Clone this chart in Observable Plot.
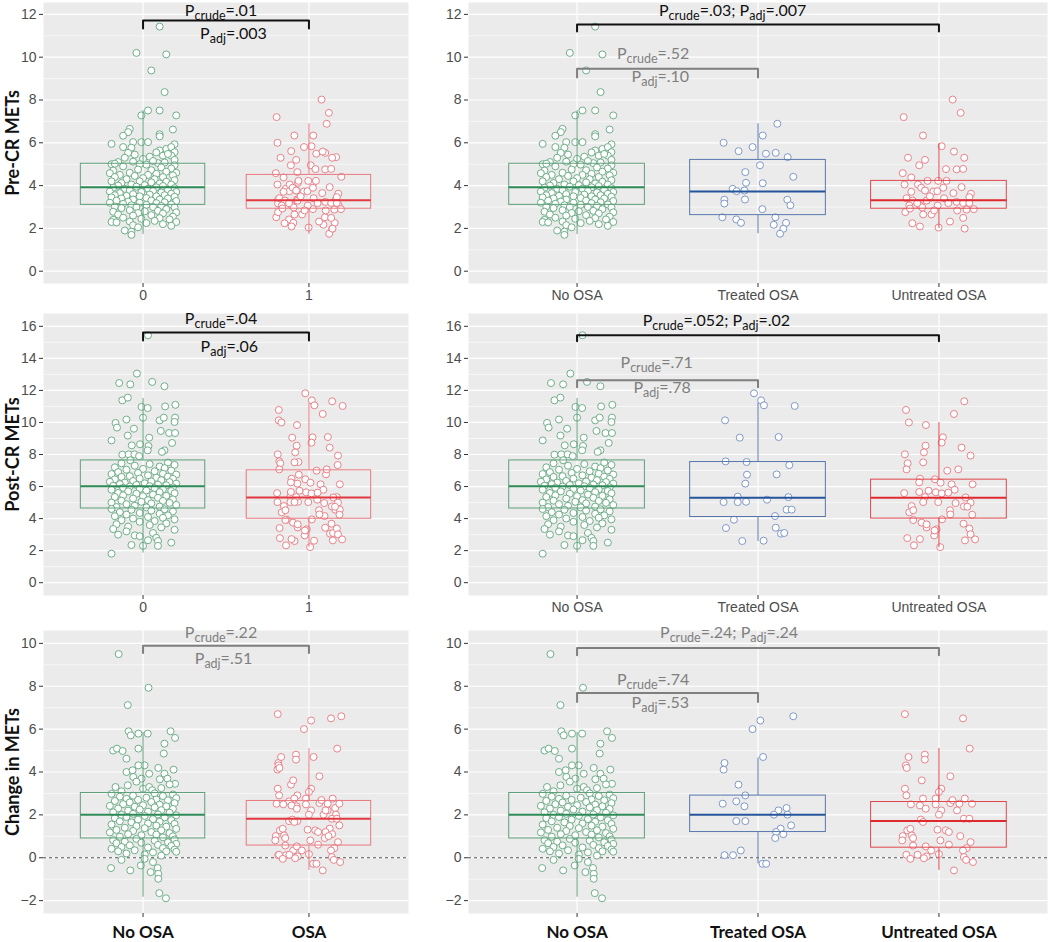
<!DOCTYPE html>
<html><head><meta charset="utf-8">
<script src="https://cdn.jsdelivr.net/npm/d3@7"></script>
<script src="https://cdn.jsdelivr.net/npm/@observablehq/plot@0.6"></script>
<style>
body{margin:0;background:#fff;}
#wrap{position:relative;width:1050px;height:942px;overflow:hidden;background:#fff;}
#wrap svg{position:absolute;overflow:visible;}
</style></head><body><div id="wrap"></div>
<script>
// ---------------- DATA (value, jitter-in-category-units) ----------------
const leftCodes = ["0", "1"];
const leftGroups = ["No OSA", "OSA"];
const rightGroups = ["No OSA", "Treated OSA", "Untreated OSA"];
const yTitles = ["Pre-CR METs", "Post-CR METs", "Change in METs"];

const noOsaPre = [[11.43,0.10],[10.2,-0.04],[10.13,0.14],[9.38,0.05],[8.37,0.13],[7.51,0.03],[7.51,0.10],[7.28,-0.01],[7.28,0.20],[6.62,0.18],[6.65,-0.08],[6.5,-0.09],[6.33,-0.12],[6.4,0.10],[6.3,0.10],[5.95,-0.19],[5.93,0.19],[6.03,0.03],[6.03,-0.01],[6.03,-0.06],[5.8,-0.12],
[5.77,-0.07],[5.64,0.10],[5.55,0.08],[5.71,0.14],[5.8,0.17],[5.56,0.19],[5.53,-0.09],[5.45,-0.05],[5.35,0.04],[5.4,0.12],[5.4,0.17],[5.48,0.15],[5.3,-0.11],[5.2,0.19],[5.25,0.0],[5.1,-0.15],[5.05,0.09],[5.0,-0.19],[5.02,-0.17],[5.15,0.06],[5.08,0.13],[4.98,0.02],[5.0,-0.02],[4.95,0.19],[5.12,-0.06],
[4.9,-0.12],[4.85,0.11],[4.8,0.17],[4.75,-0.03],[4.72,0.05],[4.7,-0.18],[4.65,0.14],[4.6,-0.08],[4.6,0.2],[4.58,-0.2],[4.55,0.08],[4.5,-0.14],[4.5,0.03],[4.48,0.18],[4.45,-0.05],[4.4,0.12],[4.4,-0.17],[4.35,0.0],[4.3,0.07],[4.3,-0.1],[4.25,0.19],[4.2,-0.02],[4.2,-0.19],[4.18,0.14],[4.15,0.05],[4.12,-0.13],[4.1,0.1],[4.05,-0.07],[4.05,0.17],[4.02,0.01],[4.0,-0.15],
[3.98,0.12],[3.95,-0.04],[3.92,0.08],[3.9,-0.18],[3.88,0.19],[3.85,-0.11],[3.85,0.03],[3.8,0.15],[3.78,-0.08],[3.75,0.06],[3.72,-0.2],[3.7,-0.01],[3.7,0.2],[3.68,0.11],[3.65,-0.14],[3.62,0.17],[3.6,-0.06],[3.58,0.04],[3.55,-0.17],[3.55,0.13],[3.52,-0.1],[3.5,0.08],[3.5,-0.02],[3.48,0.19],
[3.45,-0.19],[3.42,0.02],[3.4,-0.13],[3.4,0.15],[3.35,-0.06],[3.35,0.1],[3.3,-0.16],[3.3,0.05],[3.28,0.2],[3.25,-0.09],[3.22,0.13],[3.2,-0.02],[3.2,-0.2],[3.18,0.08],[3.15,-0.12],[3.12,0.17],[3.1,0.02],[3.08,-0.07],[3.05,0.11],[3.02,-0.17],[3.0,0.06],[3.0,-0.04],[2.98,0.19],
[2.95,-0.13],[2.9,0.14],[2.85,-0.08],[2.82,0.09],[2.8,0.01],[2.78,-0.18],[2.75,0.2],[2.72,-0.03],[2.7,0.12],[2.65,-0.15],[2.62,0.05],[2.6,-0.06],[2.55,0.18],[2.5,-0.12],[2.48,0.1],[2.45,-0.01],[2.42,0.16],[2.4,-0.18],[2.35,0.07],[2.32,-0.08],[2.3,-0.19],[2.3,0.2],[2.28,-0.16],[2.25,0.02],[2.2,0.12],[2.15,-0.06],[2.12,0.17],[2.05,-0.03],
[1.9,-0.11],[1.85,-0.07],[1.7,-0.07]];

const treatedPre = [[6.89,0.107],[6.34,0.026],[6.0,-0.19],[5.8,-0.03],[5.61,-0.107],[5.49,0.044],[5.53,0.098],[5.33,0.164],[4.95,0.011],[4.63,-0.07],[4.41,0.195],[4.13,-0.066],[4.11,0.026],[3.85,-0.14],[3.74,-0.118],[3.77,-0.075],[3.35,-0.072],[3.34,-0.186],[3.16,-0.186],[3.34,0.162],[3.08,0.179],[2.9,0.024],[2.52,-0.197],[2.42,-0.12],[2.26,-0.094],[2.52,0.096],[2.17,0.087],[2.26,0.155],[1.98,0.14],[1.75,0.122]];

const untreatedPre = [[8.02,0.076],[7.4,0.12],[7.2,-0.195],[6.34,-0.088],[5.84,0.015],[5.59,0.083],[5.3,-0.171],[5.2,-0.077],[4.95,-0.109],[5.3,0.14],[4.77,0.039],[4.76,0.098],[4.78,0.134],[4.58,-0.2],[4.38,-0.153],[4.22,-0.063],[4.22,-0.004],[4.22,0.042],[4.05,-0.19],[4.05,-0.116],[3.9,-0.098],[3.77,-0.077],[3.72,-0.031],[3.74,-0.009],[3.71,-0.153],[3.93,0.125],[3.62,0.177],[3.46,0.168],[3.41,-0.179],[3.3,-0.145],[3.3,-0.068],[3.41,0.028],[3.18,0.052],[3.24,0.098],[3.19,0.134],[3.19,0.168],[3.07,-0.164],[3.08,-0.105],[3.07,-0.007],[2.84,0.101],[2.88,0.153],[2.9,0.193],[2.76,-0.186],[2.65,-0.087],[2.65,-0.041],[2.98,-0.092],[2.84,-0.026],[2.93,-0.16],[2.49,0.134],[2.24,-0.147],[2.09,-0.105],[2.32,0.061],[2.04,-0.002],[1.99,0.142],[3.18,-0.12],[3.5,-0.05],[3.65,0.08],[3.9,0.024]];

const noOsaPost = [[15.44,0.03],[13.05,-0.037],[12.46,-0.144],[12.38,-0.077],[12.53,0.055],[12.26,0.129],[11.38,-0.125],[11.55,-0.092],[10.97,-0.009],[10.9,0.028],[11.0,0.133],[11.1,0.195],[10.3,0.0],[10.18,-0.1],[9.97,-0.166],[10.13,0.1],[10.3,0.125],[10.3,0.193],[10.03,0.19],[9.68,-0.157],[9.61,-0.055],[9.47,0.107],[9.34,0.157],[9.34,0.193],[9.18,-0.092],[8.88,-0.19],[9.05,0.037],[8.72,0.175],[8.57,-0.068],[8.64,-0.018],[8.53,0.033],[8.26,0.129],[8.16,0.114],[7.99,-0.125],[8.01,-0.087],[8.01,-0.052],[7.9,-0.024],[8.26,0.028],[7.64,-0.077],
[7.5,0.15],[7.45,-0.13],[7.4,0.04],[7.35,0.19],[7.3,-0.05],[7.25,0.1],[7.2,-0.17],[7.15,0.13],[7.1,0.0],[7.05,-0.1],[7.0,0.17],[6.95,0.07],[6.9,-0.15],[6.85,-0.03],[6.8,0.12],[6.78,-0.19],[6.75,0.2],[6.7,0.03],[6.65,-0.08],[6.62,0.15],[6.6,-0.13],[6.55,0.08],[6.5,-0.02],[6.48,0.18],[6.45,-0.17],[6.4,0.11],[6.35,-0.06],[6.32,0.05],[6.3,-0.2],[6.28,0.16],[6.25,-0.11],[6.2,0.01],[6.18,0.2],[6.15,-0.14],[6.12,0.09],[6.1,-0.04],[6.08,0.14],[6.05,-0.18],[6.02,0.04],[6.0,-0.08],[5.95,0.18],[5.92,-0.12],[5.9,0.07],[5.85,-0.02],[5.82,0.12],[5.8,-0.19],[5.75,0.02],[5.72,0.17],[5.7,-0.09],[5.65,0.1],[5.6,-0.15],[5.58,0.19],[5.55,-0.04],[5.5,0.06],[5.45,-0.12],[5.42,0.14],[5.4,0.0],[5.35,-0.17],[5.3,0.09],[5.25,-0.06],[5.2,0.18],[5.15,0.03],[5.12,-0.13],[5.1,0.12],[5.05,-0.01],[5.0,-0.19],[4.98,0.16],[4.95,0.05],[4.9,-0.1],[4.85,0.2],[4.8,-0.05],[4.75,0.1],[4.72,-0.16],[4.7,0.02],
[4.6,-0.19],[4.58,0.13],[4.55,-0.07],[4.5,0.05],[4.45,0.18],[4.4,-0.14],[4.35,-0.02],[4.3,0.1],[4.25,-0.1],[4.2,0.15],[4.15,-0.17],[4.1,0.03],[4.05,0.12],[4.0,-0.06],[3.95,0.19],[3.9,-0.13],[3.85,0.07],[3.8,-0.02],[3.7,0.14],[3.65,-0.16],[3.6,0.04],[3.5,-0.09],[3.45,0.11],[3.35,-0.18],[3.3,0.19],[3.2,-0.1],[3.1,0.06],[3.0,-0.15],[2.95,-0.05],[2.9,-0.02],[2.8,0.08],[2.65,0.03],[2.6,0.09],[2.5,0.17],[2.35,-0.07],[2.3,0.09],[2.3,0.0],[1.81,-0.19]];

const treatedPost = [[11.82,-0.022],[11.38,0.017],[11.07,0.033],[11.03,0.203],[10.13,-0.182],[9.05,-0.101],[9.09,0.114],[7.57,-0.179],[7.53,-0.063],[7.34,0.173],[6.74,-0.061],[6.76,0.103],[6.18,-0.07],[5.37,-0.112],[5.34,0.168],[5.03,-0.19],[5.03,-0.112],[5.05,-0.066],[5.18,0.05],[4.56,0.158],[4.56,0.186],[4.16,0.094],[3.93,-0.133],[3.41,-0.177],[3.43,0.098],[3.06,0.127],[3.1,0.145],[2.6,-0.087],[2.62,0.031]];

const untreatedPost = [[11.32,0.14],[10.78,-0.182],[10.53,0.083],[10.0,-0.166],[9.84,-0.072],[9.07,0.022],[8.74,0.015],[8.55,-0.074],[8.43,0.125],[8.13,-0.083],[8.01,-0.188],[7.93,0.175],[7.45,-0.173],[7.51,-0.087],[7.07,-0.179],[6.99,0.046],[7.07,0.107],[6.49,-0.105],[6.26,-0.109],[6.45,-0.022],[6.24,0.009],[6.14,0.07],[6.14,0.186],[5.8,0.087],[5.59,-0.192],[5.66,-0.109],[5.74,-0.057],[5.64,-0.017],[5.57,0.015],[5.62,0.052],[5.34,-0.077],[5.03,-0.087],[5.03,-0.004],[5.32,0.147],[4.97,0.092],[5.0,0.175],[4.76,0.138],[4.74,0.157],[4.78,-0.151],[4.39,-0.164],[4.52,-0.142],[4.52,0.061],[4.26,0.063],[4.24,0.184],[3.95,0.017],[3.91,-0.142],[3.75,-0.096],[3.45,-0.068],[3.33,-0.013],[3.68,0.136],[3.38,0.168],[3.64,-0.068],[2.95,-0.026],[3.26,-0.024],[3.02,0.175],[2.78,-0.175],[2.72,-0.105],[2.64,0.144],[2.7,0.2],[2.33,-0.138],[2.22,0.007]];

const noOsaChg = [[9.5,-0.147],[7.93,0.033],[7.12,-0.092],[5.9,-0.087],[5.79,-0.028],[5.79,0.028],[5.9,0.166],[5.59,0.193],[5.71,-0.074],[5.0,-0.18],[5.09,-0.157],[4.98,-0.123],[5.09,-0.028],[5.32,0.129],[4.86,0.125],[4.62,-0.1],[4.31,-0.028],[4.31,0.009],[4.11,0.184],[4.0,-0.1],[4.08,-0.063],[4.19,0.092],[3.92,0.129],[3.92,0.037],[3.77,-0.059],[3.69,-0.009],[3.66,0.101],[3.69,0.147],[3.3,-0.166],[3.38,-0.092],[3.22,0.0],[3.3,0.037],[3.15,0.055],[3.25,0.11],[3.45,0.193],[3.55,-0.04],[3.42,0.16],[3.1,-0.13],
[3.0,0.07],[2.98,-0.19],[2.95,0.18],[2.9,-0.06],[2.88,0.12],[2.85,-0.14],[2.8,0.02],[2.78,0.2],[2.75,-0.1],[2.72,0.08],[2.7,-0.03],[2.68,0.15],[2.65,-0.17],[2.6,0.05],[2.58,-0.08],[2.55,0.19],[2.5,-0.12],[2.48,0.1],[2.45,0.0],[2.42,-0.2],[2.4,0.14],[2.38,-0.05],[2.35,0.07],[2.3,-0.15],[2.28,0.18],[2.25,-0.02],[2.22,0.11],[2.2,-0.09],[2.15,0.03],[2.12,-0.18],[2.1,0.16],[2.05,-0.06],[2.02,0.09],[2.0,-0.13],[1.98,0.2],[1.95,0.01],[1.9,-0.1],[1.88,0.13],[1.85,-0.17],[1.8,0.06],[1.78,-0.03],[1.75,0.17],[1.7,-0.14],[1.68,0.1],[1.65,-0.07],[1.6,0.03],[1.58,0.19],[1.55,-0.19],[1.5,0.08],[1.48,-0.04],[1.45,0.14],[1.4,-0.11],[1.38,0.01],[1.35,0.2],[1.3,-0.16],[1.28,0.11],[1.25,-0.06],[1.2,0.05],[1.18,-0.2],[1.15,0.16],[1.1,-0.09],[1.08,0.08],[1.05,-0.01],[1.0,0.18],[0.98,-0.14],[0.95,0.12],
[0.88,-0.04],[0.85,0.19],[0.82,-0.18],[0.8,0.07],[0.75,-0.11],[0.72,0.15],[0.7,-0.01],[0.68,-0.16],[0.65,0.2],[0.6,0.09],[0.58,-0.08],[0.55,0.17],[0.5,-0.13],[0.48,0.03],[0.45,0.12],[0.42,-0.19],[0.38,0.19],[0.35,-0.05],[0.3,0.14],[0.3,-0.15],[0.28,0.2],[0.25,0.06],[0.2,-0.1],[0.15,0.01],[0.1,0.11],[-0.05,0.009],[-0.1,-0.13],[-0.2,0.06],[-0.36,-0.013],[-0.48,-0.193],[-0.59,-0.077],[-0.67,0.046],[-0.48,0.088],[-0.75,0.092],[-0.98,0.092],[-1.65,0.098],[-1.89,0.138]];

const treatedChg = [[6.6,0.195],[6.4,0.013],[6.0,-0.03],[4.7,0.028],[4.42,-0.185],[4.11,-0.19],[3.41,-0.108],[2.91,-0.07],[2.4,-0.075],[2.52,-0.195],[2.63,-0.12],[2.32,0.158],[2.21,0.113],[2.01,0.088],[2.01,0.163],[1.71,-0.12],[1.71,-0.07],[1.51,0.183],[1.36,0.125],[1.2,0.1],[1.1,0.14],[0.92,0.095],[0.34,-0.095],[0.12,-0.185],[0.12,-0.138],[-0.28,0.025],[-0.28,0.045]];

const untreatedChg = [[6.7,-0.188],[6.5,0.133],[5.09,0.17],[3.8,0.063],[4.7,-0.168],[4.81,-0.078],[4.58,-0.078],[4.31,-0.183],[4.19,-0.178],[3.61,-0.095],[3.22,-0.188],[3.22,0.013],[2.91,-0.18],[3.07,0.0],[2.76,-0.018],[2.76,-0.088],[2.49,-0.155],[2.44,-0.105],[2.29,-0.073],[2.49,-0.018],[2.55,0.063],[2.52,0.113],[2.76,0.143],[2.69,0.075],[2.52,0.183],[2.21,0.1],[2.21,0.013],[2.01,0.0],[1.82,0.138],[1.82,0.168],[1.78,-0.1],[1.67,-0.088],[1.28,-0.175],[1.35,-0.158],[1.31,-0.008],[1.28,0.038],[1.2,0.055],[1.01,-0.2],[1.04,-0.15],[1.01,0.118],[0.81,-0.203],[0.92,-0.143],[0.81,0.008],[0.61,0.055],[0.73,0.175],[0.57,-0.143],[0.53,-0.073],[0.45,0.153],[0.34,0.133],[0.34,-0.043],[0.14,-0.18],[0.14,-0.118],[0.06,-0.068],[0.17,0.0],[-0.05,-0.158],[-0.02,-0.083],[0.03,0.138],[-0.1,0.15],[-0.2,0.188],[-0.59,0.083]];

// box statistics: [q1, median, q3, whiskerLow, whiskerHigh] for No OSA, OSA, Treated, Untreated
const boxPre  = [[3.1,3.92,5.02,1.72,7.5],[2.92,3.32,4.5,1.72,6.89],[2.62,3.72,5.2,1.75,6.89],[2.92,3.32,4.22,2.0,5.95]];
const boxPost = [[4.63,6.02,7.63,1.85,11.49],[3.99,5.32,7.01,2.22,11.17],[4.1,5.3,7.53,2.58,11.21],[4.0,5.3,6.43,2.18,9.99]];
const boxChg  = [[0.9,2.01,3.02,-1.84,5.84],[0.57,1.82,2.65,-0.59,5.09],[1.2,2.01,2.9,-0.28,4.65],[0.47,1.71,2.6,-0.59,5.09]];

const ticksPre = [0,2,4,6,8,10,12], minorPre = [1,3,5,7,9,11];
const ticksPost = [0,2,4,6,8,10,12,14,16], minorPost = [1,3,5,7,9,11,13,15];
const ticksChg = [-2,0,2,4,6,8,10], minorChg = [-1,1,3,5,7,9];

// comparison labels
const annPre = {
  L: {brackets: [{a:0,b:1,level:11.72,drop:11.34,dark:true}],
      labels: [{t:"P_crude=.01",x:0.47,y:12.18,dark:true},{t:"P_adj=.003",x:0.545,y:11.1,dark:true}]},
  R: {brackets: [{a:0,b:2,level:11.53,drop:11.2,dark:true},{a:0,b:1,level:9.46,drop:9.05,dark:false}],
      labels: [{t:"P_crude=.03; P_adj=.007",x:0.86,y:12.18,dark:true},{t:"P_crude=.52",x:0.42,y:10.17,dark:false},{t:"P_adj=.10",x:0.46,y:9.1,dark:false}]}
};
const annPost = {
  L: {brackets: [{a:0,b:1,level:15.62,drop:15.12,dark:true}],
      labels: [{t:"P_crude=.04",x:0.47,y:16.44,dark:true},{t:"P_adj=.06",x:0.52,y:14.69,dark:true}]},
  R: {brackets: [{a:0,b:2,level:15.44,drop:15.07,dark:true},{a:0,b:1,level:12.63,drop:12.2,dark:false}],
      labels: [{t:"P_crude=.052; P_adj=.02",x:0.77,y:16.37,dark:true},{t:"P_crude=.71",x:0.44,y:13.69,dark:false},{t:"P_adj=.78",x:0.47,y:12.13,dark:false}]}
};
const annChg = {
  L: {brackets: [{a:0,b:1,level:9.89,drop:9.55,dark:false}],
      labels: [{t:"P_crude=.22",x:0.47,y:10.49,dark:false},{t:"P_adj=.51",x:0.485,y:9.26,dark:false}]},
  R: {brackets: [{a:0,b:2,level:9.78,drop:9.45,dark:false},{a:0,b:1,level:7.68,drop:7.26,dark:false}],
      labels: [{t:"P_crude=.24; P_adj=.24",x:0.84,y:10.49,dark:false},{t:"P_crude=.74",x:0.42,y:8.29,dark:false},{t:"P_adj=.53",x:0.46,y:7.21,dark:false}]}
};

// ---------------- STYLE / LAYOUT ----------------
const COLORS = {
  noosa:     {pt:"#6fae88", box:"#5fa07a", med:"#2e8b57"},
  osa:       {pt:"#e8828a", box:"#e8787e", med:"#e2383f"},
  treated:   {pt:"#8098c5", box:"#5878ad", med:"#24549b"},
  untreated: {pt:"#e8828a", box:"#e0474d", med:"#e0282f"}
};
const DARK = "#111111", GREY = "#7f7f7f";
const cols = {L:{x0:43,x1:408,left:0}, R:{x0:468,x1:1047,left:420}};
const rows = [{y0:2,y1:283},{y0:313,y1:595},{y0:630,y1:913}];
const wrap = document.getElementById("wrap");

function applySub(svg) {
  const NS = "http://www.w3.org/2000/svg";
  svg.querySelectorAll("text").forEach(t => {
    const s = t.textContent;
    if (!s.includes("P_")) return;
    while (t.firstChild) t.removeChild(t.firstChild);
    const parts = s.split(/(P_crude|P_adj)/).filter(p => p.length);
    let pending = false;
    const add = (str, attrs) => {
      const ts = document.createElementNS(NS, "tspan");
      ts.textContent = str;
      for (const k in attrs) ts.setAttribute(k, attrs[k]);
      t.appendChild(ts);
    };
    for (const p of parts) {
      if (p.startsWith("P_")) {
        add("P", pending ? {dy: -4} : {});
        add(p.slice(2), {dy: 4, "font-size": 12.5});
        pending = true;
      } else {
        add(p, pending ? {dy: -4} : {});
        pending = false;
      }
    }
  });
}

function panel(rowIdx, colKey, cats, labels, bold, yDomain, yTicks, minor, ann, zeroLine) {
  const col = cols[colKey], row = rows[rowIdx];
  const mL = col.x0 - col.left, mR = 4, mT = 14, mB = 30;
  const n = cats.length;
  const pts = cats.flatMap((c, i) => c.pts.map(([v, j]) => ({x: i + j, y: v, c: COLORS[c.key].pt})));
  const boxes = cats.map((c, i) => ({i, q1:c.box[0], med:c.box[1], q3:c.box[2], lo:c.box[3], hi:c.box[4], s:COLORS[c.key].box, m:COLORS[c.key].med}));
  const br = ann.brackets.flatMap((b, k) => [[b.a,b.drop],[b.a,b.level],[b.b,b.level],[b.b,b.drop]]
      .map(([x, y]) => ({x, y, id:k, c: b.dark ? DARK : GREY})));
  const labs = ann.labels.map(l => ({...l, c: l.dark ? DARK : GREY}));
  const marks = [
    Plot.frame({fill:"#ebebeb", stroke:"none"}),
    Plot.gridY(minor, {stroke:"white", strokeOpacity:1, strokeWidth:0.6}),
    Plot.gridY(yTicks, {stroke:"white", strokeOpacity:1, strokeWidth:1.2}),
    Plot.gridX(d3.range(n), {stroke:"white", strokeOpacity:1, strokeWidth:1.2}),
  ];
  if (zeroLine) marks.push(Plot.ruleY([0], {stroke:"#555", strokeWidth:1, strokeDasharray:"3,3"}));
  marks.push(
    Plot.dot(pts, {x:"x", y:"y", r:3.5, fill:"white", stroke:"c", strokeWidth:1}),
    Plot.ruleX(boxes, {x:"i", y1:"q3", y2:"hi", stroke:"s", strokeWidth:1}),
    Plot.ruleX(boxes, {x:"i", y1:"lo", y2:"q1", stroke:"s", strokeWidth:1}),
    Plot.rect(boxes, {x1:d => d.i - 0.375, x2:d => d.i + 0.375, y1:"q1", y2:"q3", fill:"none", stroke:"s", strokeWidth:1}),
    Plot.ruleY(boxes, {y:"med", x1:d => d.i - 0.375, x2:d => d.i + 0.375, stroke:"m", strokeWidth:2}),
    Plot.line(br, {x:"x", y:"y", z:"id", stroke:"c", strokeWidth:2}),
    Plot.text(labs, {x:"x", y:"y", text:"t", fill:"c", fontSize:16, fontFamily:"Lato", textAnchor:"middle"}),
    Plot.axisY(yTicks, {tickSize:4, tickPadding:3, fontSize:14, fill:"#4d4d4d", stroke:"#333", label:null}),
    bold
      ? Plot.axisX(d3.range(n), {tickSize:4, tickPadding:8, fontSize:17, fontWeight:"bold", fontFamily:"Lato", fill:"#111", stroke:"#333", tickFormat:i => labels[i], label:null})
      : Plot.axisX(d3.range(n), {tickSize:4, tickPadding:3, fontSize:14, fill:"#4d4d4d", stroke:"#333", tickFormat:i => labels[i], label:null})
  );
  if (colKey === "L") {
    marks.push(Plot.text([yTitles[rowIdx]], {frameAnchor:"left", dx:-30, rotate:-90, textAnchor:"middle", fontSize:18, fontWeight:"bold", fontFamily:"Lato", fill:"#111"}));
  }
  const svg = Plot.plot({
    width: mL + (col.x1 - col.x0) + mR,
    height: mT + (row.y1 - row.y0) + mB,
    marginLeft: mL, marginRight: mR, marginTop: mT, marginBottom: mB,
    x: {domain:[-0.6, n - 0.4]},
    y: {domain: yDomain},
    color: {type:"identity"},
    style: {background:"transparent", overflow:"visible", fontFamily:"'Liberation Sans', Arial, sans-serif"},
    marks
  });
  svg.style.left = col.left + "px";
  svg.style.top = (row.y0 - mT) + "px";
  applySub(svg);
  wrap.appendChild(svg);
}

const dom = [[-0.575,12.556],[-0.8,16.8],[-2.6,10.6]];
const osaPre = treatedPre.concat(untreatedPre);
const osaPost = treatedPost.concat(untreatedPost);
const osaChg = treatedChg.concat(untreatedChg);

panel(0, "L", [{key:"noosa",pts:noOsaPre,box:boxPre[0]},{key:"osa",pts:osaPre,box:boxPre[1]}], leftCodes, false, dom[0], ticksPre, minorPre, annPre.L, false);
panel(0, "R", [{key:"noosa",pts:noOsaPre,box:boxPre[0]},{key:"treated",pts:treatedPre,box:boxPre[2]},{key:"untreated",pts:untreatedPre,box:boxPre[3]}], rightGroups, false, dom[0], ticksPre, minorPre, annPre.R, false);
panel(1, "L", [{key:"noosa",pts:noOsaPost,box:boxPost[0]},{key:"osa",pts:osaPost,box:boxPost[1]}], leftCodes, false, dom[1], ticksPost, minorPost, annPost.L, false);
panel(1, "R", [{key:"noosa",pts:noOsaPost,box:boxPost[0]},{key:"treated",pts:treatedPost,box:boxPost[2]},{key:"untreated",pts:untreatedPost,box:boxPost[3]}], rightGroups, false, dom[1], ticksPost, minorPost, annPost.R, false);
panel(2, "L", [{key:"noosa",pts:noOsaChg,box:boxChg[0]},{key:"osa",pts:osaChg,box:boxChg[1]}], leftGroups, true, dom[2], ticksChg, minorChg, annChg.L, true);
panel(2, "R", [{key:"noosa",pts:noOsaChg,box:boxChg[0]},{key:"treated",pts:treatedChg,box:boxChg[2]},{key:"untreated",pts:untreatedChg,box:boxChg[3]}], rightGroups, true, dom[2], ticksChg, minorChg, annChg.R, true);
</script></body></html>
